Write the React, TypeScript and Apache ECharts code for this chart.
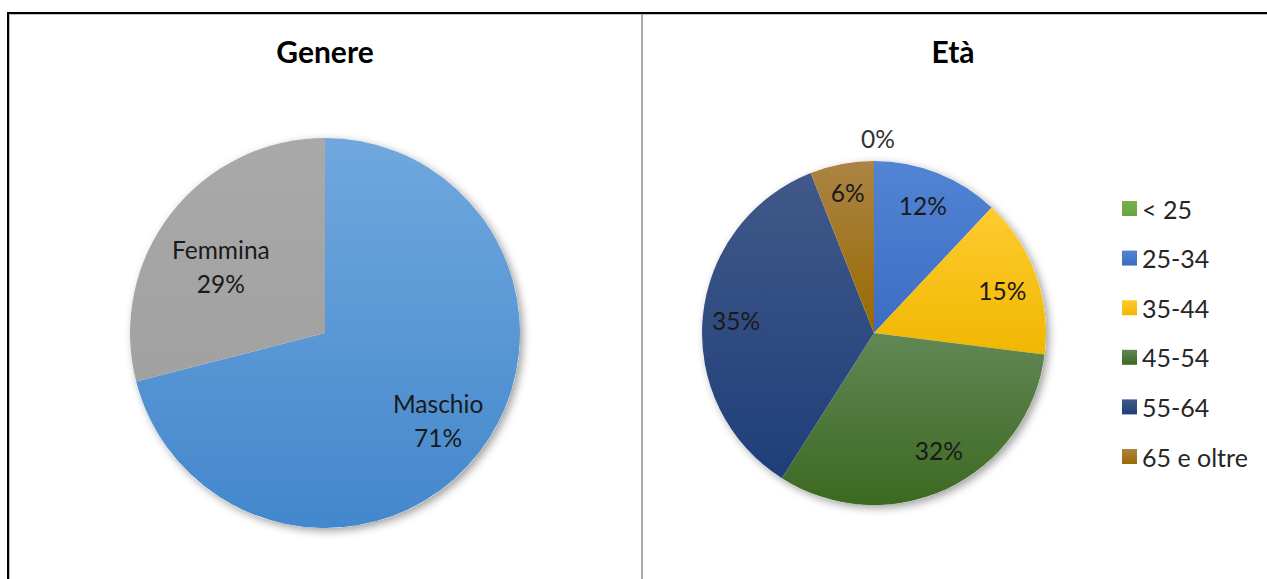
import { useEffect, useRef } from "react";
import * as echarts from "echarts";

const chartTitles = ["Genere", "Età"];
const genderCategories = ["Maschio", "Femmina"];
const genderValues = [71, 29];
const ageCategories = ["< 25", "25-34", "35-44", "45-54", "55-64", "65 e oltre"];
const ageValues = [0, 12, 15, 32, 35, 6];

const genderColors = [
  ["#70a8de", "#4387cc"],
  ["#a9a9a9", "#a1a1a1"],
];
const ageColors = [
  ["#76b24c", "#68a540"],
  ["#5284d4", "#3d6dc3"],
  ["#ffcb30", "#f0b700"],
  ["#628756", "#3c6920"],
  ["#415989", "#1f3e79"],
  ["#ab8444", "#996900"],
];
// small label nudges (Excel places labels slightly off the bisector)
const genderLabelNudge = [
  [6, 4],
  [3, 17],
];
const ageLabelNudge = [
  [0, 0],
  [-3, 3],
  [-4, 5],
  [5, -10],
  [2, 1],
  [0, -2],
];

const FONT = "Lato, 'Open Sans', sans-serif";
const TEXT = "#1a1a1a";

const grad = (c: string[]) =>
  new echarts.graphic.LinearGradient(0, 0, 0, 1, [
    { offset: 0, color: c[0] },
    { offset: 1, color: c[1] },
  ]);

export default function App() {
  const ref = useRef<HTMLDivElement>(null);

  useEffect(() => {
    document.body.style.margin = "0";
    if (!ref.current) return;
    const chart = echarts.init(ref.current, undefined, { renderer: "svg" });

    const leftCenter = [325, 333];
    const leftR = 195;
    const rightCenter = [874, 333];
    const rightR = 172;

    const sum = (a: number[]) => a.reduce((s, v) => s + v, 0);

    const shadowStyle = {
      color: "#fff",
      shadowColor: "rgba(0,0,0,0.38)",
      shadowBlur: 9,
      shadowOffsetX: 3,
      shadowOffsetY: 3,
    };

    const option: any = {
      animation: false,
      backgroundColor: "#ffffff",
      title: [
        {
          text: chartTitles[0],
          left: 325,
          top: 36,
          padding: 0,
          textAlign: "center",
          textStyle: { fontFamily: FONT, fontSize: 30, fontWeight: "bold", color: "#000" },
        },
        {
          text: chartTitles[1],
          left: 953,
          top: 36,
          padding: 0,
          textAlign: "center",
          textStyle: { fontFamily: FONT, fontSize: 30, fontWeight: "bold", color: "#000" },
        },
      ],
      legend: {
        orient: "vertical",
        left: 1117,
        top: 191,
        itemWidth: 15,
        itemHeight: 15,
        itemGap: 24.6,
        icon: "rect",
        selectedMode: false,
        data: ageCategories,
        textStyle: { fontFamily: FONT, fontSize: 25, color: "#262626" },
      },
      graphic: [
        { type: "rect", shape: { x: 7, y: 12, width: 1260, height: 2 }, style: { fill: "#000" } },
        { type: "rect", shape: { x: 7, y: 12, width: 2, height: 567 }, style: { fill: "#000" } },
        { type: "rect", shape: { x: 9, y: 14, width: 1258, height: 1 }, style: { fill: "#c0c0c0" } },
        { type: "rect", shape: { x: 9, y: 14, width: 1, height: 565 }, style: { fill: "#c0c0c0" } },
        { type: "rect", shape: { x: 641, y: 14, width: 2, height: 565 }, style: { fill: "#ababab" } },
      ],
      series: [
        {
          type: "pie",
          silent: true,
          center: leftCenter,
          radius: leftR,
          label: { show: false },
          labelLine: { show: false },
          itemStyle: shadowStyle,
          data: [{ name: "bgL", value: sum(genderValues) }],
        },
        {
          type: "pie",
          silent: true,
          center: rightCenter,
          radius: rightR,
          label: { show: false },
          labelLine: { show: false },
          itemStyle: shadowStyle,
          data: [{ name: "bgR", value: sum(ageValues) }],
        },
        {
          type: "pie",
          silent: true,
          center: leftCenter,
          radius: leftR,
          startAngle: 90,
          clockwise: true,
          label: { show: false },
          labelLine: { show: false },
          data: genderCategories.map((n, i) => ({
            name: n,
            value: genderValues[i],
            itemStyle: { color: grad(genderColors[i]) },
          })),
        },
        {
          type: "pie",
          silent: true,
          center: rightCenter,
          radius: rightR,
          startAngle: 90,
          clockwise: true,
          label: { show: false },
          labelLine: { show: false },
          data: ageCategories.map((n, i) => ({
            name: n,
            value: ageValues[i],
            itemStyle: { color: grad(ageColors[i]) },
          })),
        },
        {
          type: "pie",
          silent: true,
          center: leftCenter,
          radius: [leftR * 0.36, leftR],
          startAngle: 90,
          clockwise: true,
          avoidLabelOverlap: false,
          itemStyle: { color: "rgba(0,0,0,0)" },
          label: {
            show: true,
            position: "inside",
            formatter: "{b}\n{c}%",
            fontFamily: FONT,
            fontSize: 24.5,
            lineHeight: 34,
            color: TEXT,
          },
          labelLine: { show: false },
          labelLayout: (p: any) => ({
            dx: genderLabelNudge[p.dataIndex][0],
            dy: genderLabelNudge[p.dataIndex][1],
          }),
          data: genderCategories.map((n, i) => ({ name: n, value: genderValues[i] })),
        },
        {
          type: "pie",
          silent: true,
          center: rightCenter,
          radius: [rightR * 0.6, rightR],
          startAngle: 90,
          clockwise: true,
          avoidLabelOverlap: false,
          itemStyle: { color: "rgba(0,0,0,0)" },
          label: {
            show: true,
            position: "inside",
            formatter: "{c}%",
            fontFamily: FONT,
            fontSize: 24.5,
            color: TEXT,
          },
          labelLine: { show: false },
          labelLayout: (p: any) =>
            ageValues[p.dataIndex] === 0
              ? { dx: p.labelRect.width / 2 + 9 }
              : { dx: ageLabelNudge[p.dataIndex][0], dy: ageLabelNudge[p.dataIndex][1] },
          data: ageCategories.map((n, i) =>
            ageValues[i] === 0
              ? {
                  name: n,
                  value: ageValues[i],
                  label: { position: "outside", color: "#333" },
                  labelLine: { show: false, length: 23, length2: 0 },
                }
              : { name: n, value: ageValues[i] }
          ),
        },
      ],
    };

    chart.setOption(option);
    return () => chart.dispose();
  }, []);

  return <div ref={ref} style={{ width: 1267, height: 579 }} />;
}
